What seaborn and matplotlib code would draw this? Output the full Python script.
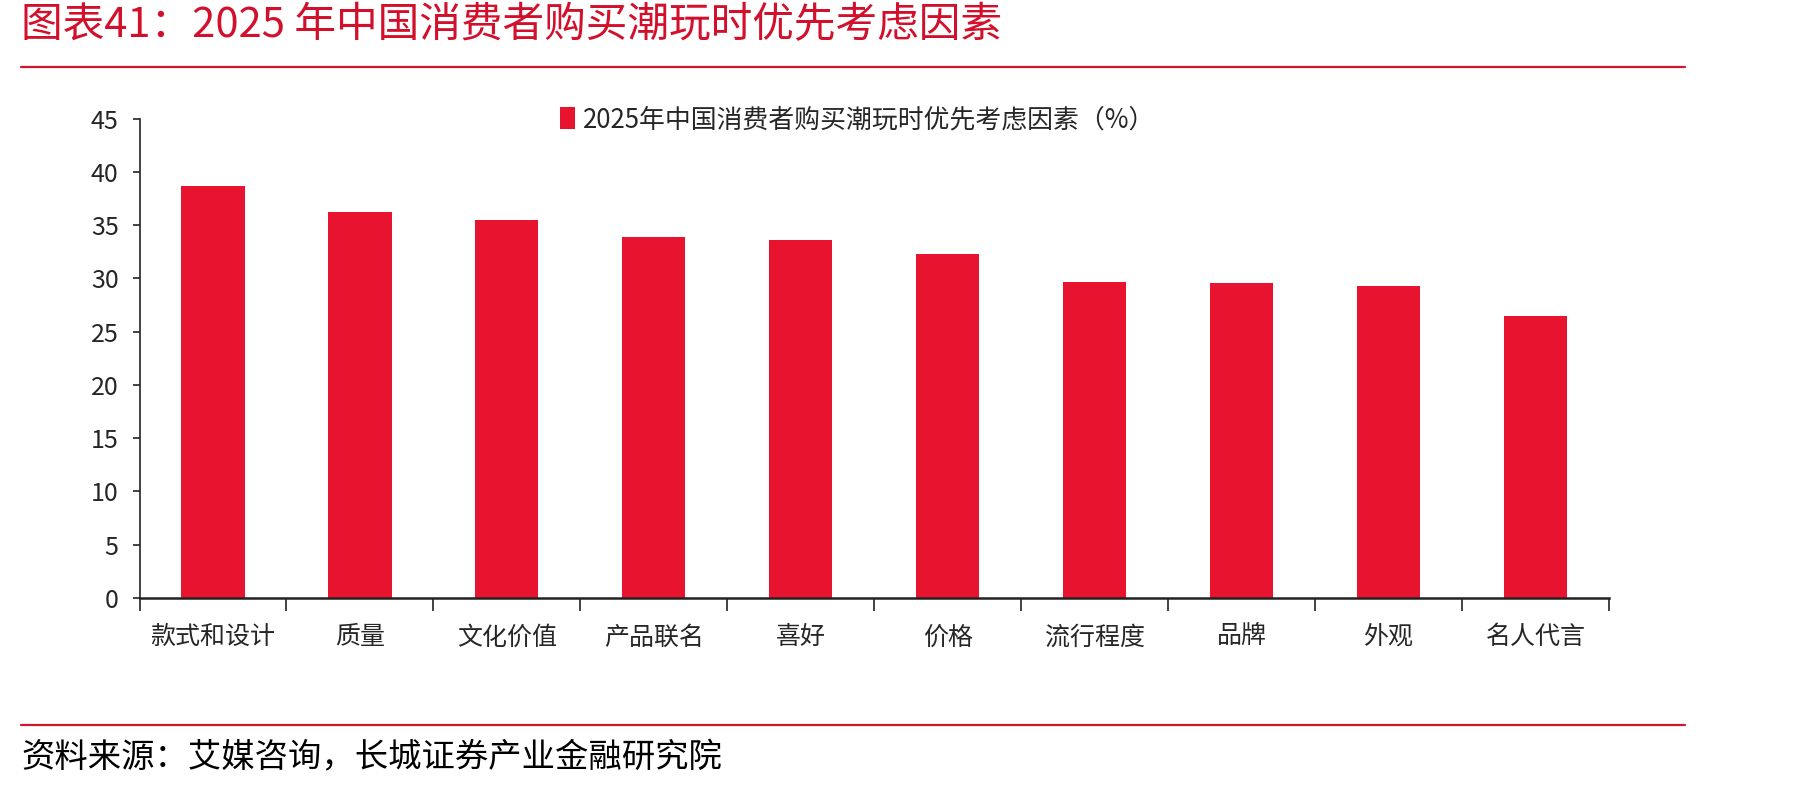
import matplotlib
matplotlib.use("Agg")
import matplotlib.pyplot as plt
from matplotlib.lines import Line2D
from matplotlib.patches import Patch
import seaborn as sns
import pandas as pd

categories = ['款式和设计', '质量', '文化价值', '产品联名', '喜好', '价格', '流行程度', '品牌', '外观', '名人代言']
values = [38.7, 36.2, 35.5, 33.9, 33.6, 32.3, 29.7, 29.6, 29.3, 26.5]
series_name = '2025年中国消费者购买潮玩时优先考虑因素（%）'
title_text = '图表41：2025 年中国消费者购买潮玩时优先考虑因素'
source_text = '资料来源：艾媒咨询，长城证券产业金融研究院'
yticks = [0, 5, 10, 15, 20, 25, 30, 35, 40, 45]

sns.set_style("ticks")
plt.rcParams['font.family'] = ['Noto Sans CJK SC', 'DejaVu Sans']

bar_color = '#E8132F'
red_line = '#D2152F'

fig = plt.figure(figsize=(18.07, 7.89), dpi=100)
ax = fig.add_axes([0.0772, 0.2421, 0.8132, 0.6075])

df = pd.DataFrame({'cat': categories, 'val': values})
sns.barplot(data=df, x='cat', y='val', color=bar_color, width=0.43,
            saturation=1, ax=ax, edgecolor='none')

ax.set_xlim(-0.5, len(categories) - 0.5)
ax.set_ylim(0, 45)
ax.set_yticks(yticks)
ax.set_yticklabels([str(v) for v in yticks], fontsize=18)
ax.set_xlabel('')
ax.set_ylabel('')

# boundary ticks (major) and centered labels (minor)
ax.set_xticks([i - 0.5 for i in range(len(categories) + 1)])
ax.set_xticklabels([])
ax.set_xticks(list(range(len(categories))), minor=True)
ax.set_xticklabels(categories, minor=True, fontsize=18)
ax.tick_params(axis='x', which='major', length=9, width=1.2, color='#222222', direction='out')
ax.tick_params(axis='x', which='minor', length=0, pad=19)
ax.tick_params(axis='y', length=5, width=1.2, color='#222222', direction='out', pad=10)

for s in ['top', 'right']:
    ax.spines[s].set_visible(False)
ax.spines['left'].set_color('#222222')
ax.spines['left'].set_linewidth(1.2)
ax.spines['bottom'].set_color('#222222')
ax.spines['bottom'].set_linewidth(1.8)

handle = Patch(facecolor=bar_color, edgecolor='none')
ax.legend([handle], [series_name], loc='center left', bbox_to_anchor=(0.279, 0.998),
          frameon=False, fontsize=18.6, handlelength=0.6, handleheight=0.9,
          handletextpad=0.3, borderaxespad=0)

fig.text(0.0116, 0.968, title_text, fontsize=30, color='#D3102C', ha='left', va='center',
         fontstyle='italic')
fig.add_artist(Line2D([0.0116, 0.9325], [0.915, 0.915], transform=fig.transFigure,
                      color=red_line, linewidth=1.6))
fig.add_artist(Line2D([0.0116, 0.9325], [0.0811, 0.0811], transform=fig.transFigure,
                      color=red_line, linewidth=1.6))
fig.text(0.0116, 0.039, source_text, fontsize=24, color='black', ha='left', va='center',
         fontstyle='italic')

fig.savefig('out.png', dpi=100, facecolor='white')
